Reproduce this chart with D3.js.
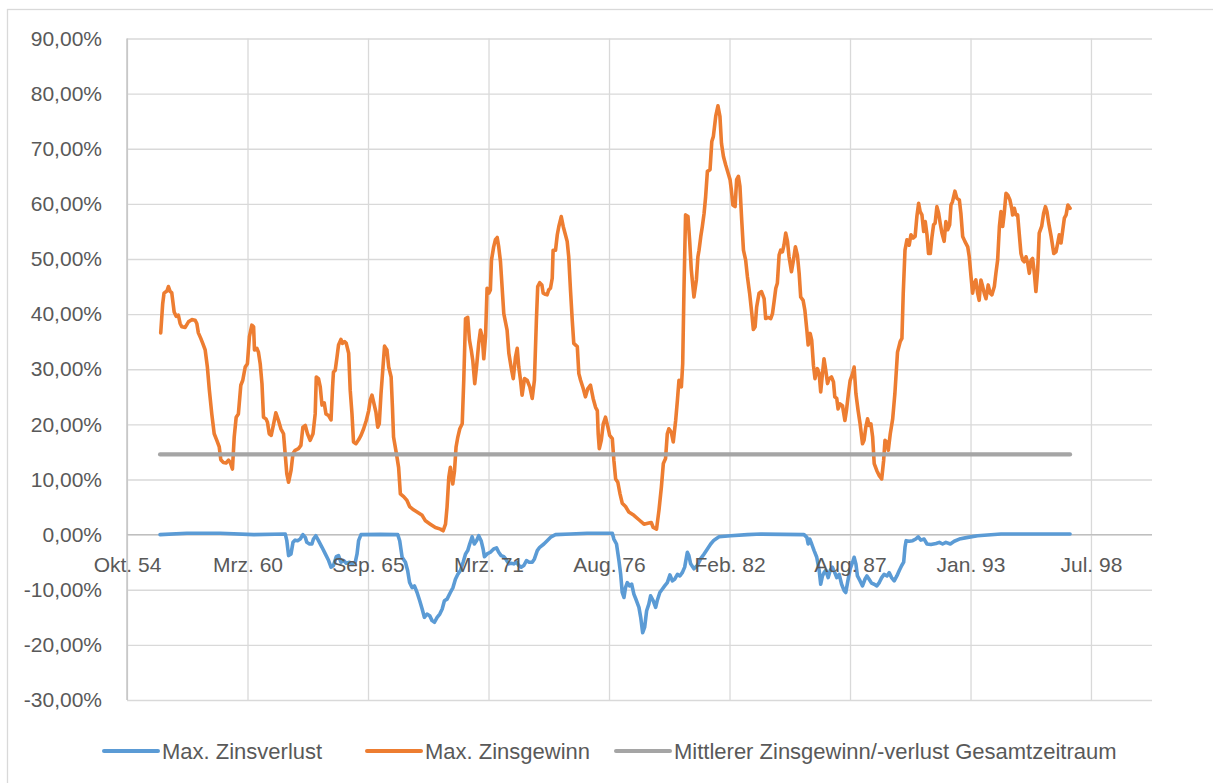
<!DOCTYPE html>
<html>
<head>
<meta charset="utf-8">
<script src="https://cdn.jsdelivr.net/npm/d3@7"></script>
<style>
  body { margin: 0; background: #fff; }
  svg text { font-family: "Liberation Sans", Arial, sans-serif; fill: #595959; }
</style>
</head>
<body>
<svg id="chart" width="1213" height="783"></svg>
<script>
/* Zinsgewinn / Zinsverlust chart (Excel look) */

// ---- data (x = decimal year, y = percent) ----
const tickDates  = ["1954-10-01","1960-03-23","1965-09-13","1971-03-06","1976-08-26",
                    "1982-02-16","1987-08-09","1993-01-29","1998-07-21"];
const tickLabels = ["Okt. 54","Mrz. 60","Sep. 65","Mrz. 71","Aug. 76",
                    "Feb. 82","Aug. 87","Jan. 93","Jul. 98"];
const yTicks = [-30,-20,-10,0,10,20,30,40,50,60,70,80,90];

const seriesNames  = ["Max. Zinsverlust","Max. Zinsgewinn","Mittlerer Zinsgewinn/-verlust Gesamtzeitraum"];
const seriesColors = ["#5B9BD5","#ED7D31","#A5A5A5"];

const zinsverlust = [[1956.25,0.0],[1957.47,0.25],[1958.98,0.24],[1960.50,0.0],[1961.94,0.1],[1962.01,-1.1],[1962.09,-3.8],[1962.20,-3.5],[1962.29,-1.4],[1962.39,-1.0],[1962.50,-1.1],[1962.62,-0.8],[1962.74,0.0],[1962.85,-0.5],[1962.92,-1.4],[1963.04,-1.7],[1963.15,-1.7],[1963.22,-0.8],[1963.33,-0.2],[1963.45,-1.1],[1963.61,-2.3],[1963.76,-3.5],[1963.91,-4.7],[1964.02,-5.9],[1964.13,-5.6],[1964.26,-4.0],[1964.36,-3.8],[1964.47,-5.0],[1964.59,-4.7],[1964.71,-5.2],[1964.86,-5.0],[1964.97,-5.3],[1965.12,-5.0],[1965.20,-3.5],[1965.27,-1.1],[1965.38,0.0],[1966.26,0.05],[1967.05,0.0],[1967.14,-1.1],[1967.25,-4.1],[1967.40,-5.0],[1967.50,-6.5],[1967.59,-8.7],[1967.70,-9.6],[1967.81,-9.3],[1967.93,-10.5],[1968.05,-12.0],[1968.16,-13.5],[1968.26,-15.0],[1968.38,-14.4],[1968.50,-14.7],[1968.61,-15.6],[1968.72,-15.9],[1968.84,-15.0],[1968.96,-14.4],[1969.07,-13.5],[1969.17,-12.0],[1969.29,-11.7],[1969.44,-10.5],[1969.56,-9.6],[1969.67,-8.1],[1969.78,-7.2],[1969.90,-6.5],[1970.02,-5.0],[1970.13,-3.5],[1970.23,-2.9],[1970.32,-1.7],[1970.43,-0.4],[1970.53,-1.7],[1970.63,-1.1],[1970.73,-0.2],[1970.84,-1.1],[1970.93,-2.6],[1970.99,-4.0],[1971.11,-3.5],[1971.26,-3.2],[1971.41,-2.6],[1971.54,-2.4],[1971.64,-3.2],[1971.75,-3.8],[1971.87,-4.0],[1971.99,-4.6],[1972.10,-5.3],[1972.20,-5.2],[1972.32,-5.3],[1972.45,-5.0],[1972.55,-5.6],[1972.66,-5.9],[1972.78,-5.6],[1972.90,-4.7],[1973.02,-5.0],[1973.16,-5.0],[1973.26,-4.4],[1973.39,-2.9],[1973.50,-2.3],[1973.69,-1.7],[1973.84,-1.1],[1974.02,-0.4],[1974.22,0.0],[1974.90,0.1],[1975.66,0.25],[1976.80,0.25],[1976.87,-0.8],[1976.99,-1.7],[1977.10,-4.7],[1977.18,-7.2],[1977.25,-10.5],[1977.33,-11.4],[1977.40,-9.6],[1977.48,-8.7],[1977.59,-9.3],[1977.68,-9.0],[1977.78,-10.8],[1977.90,-12.0],[1978.01,-13.2],[1978.09,-15.0],[1978.18,-17.8],[1978.27,-16.8],[1978.36,-13.8],[1978.46,-12.6],[1978.54,-11.1],[1978.66,-12.0],[1978.77,-13.2],[1978.84,-12.0],[1978.96,-10.5],[1979.07,-9.9],[1979.18,-9.3],[1979.30,-8.7],[1979.42,-7.3],[1979.53,-8.4],[1979.63,-8.1],[1979.76,-7.2],[1979.87,-7.5],[1979.98,-6.9],[1980.09,-5.9],[1980.21,-3.2],[1980.28,-3.8],[1980.36,-5.3],[1980.51,-6.2],[1980.66,-5.6],[1980.81,-4.4],[1980.97,-3.5],[1981.12,-2.6],[1981.27,-1.7],[1981.42,-1.0],[1981.65,-0.4],[1982.18,-0.2],[1982.94,0.0],[1983.55,0.1],[1985.51,0.0],[1985.64,-0.5],[1985.70,-1.7],[1985.77,-0.8],[1985.86,-1.7],[1985.97,-2.9],[1986.09,-4.1],[1986.20,-6.5],[1986.27,-9.0],[1986.35,-7.5],[1986.42,-6.9],[1986.50,-6.5],[1986.61,-7.8],[1986.70,-6.5],[1986.80,-5.9],[1986.91,-6.9],[1987.00,-7.8],[1987.11,-7.2],[1987.22,-9.0],[1987.34,-10.2],[1987.41,-10.5],[1987.49,-8.7],[1987.61,-6.2],[1987.72,-5.0],[1987.79,-4.1],[1987.87,-5.3],[1987.94,-7.5],[1988.06,-8.4],[1988.17,-9.3],[1988.28,-8.1],[1988.37,-7.5],[1988.47,-8.1],[1988.58,-8.8],[1988.70,-9.0],[1988.82,-9.3],[1988.93,-8.7],[1989.04,-7.8],[1989.15,-7.2],[1989.28,-7.5],[1989.38,-6.9],[1989.49,-7.8],[1989.61,-8.4],[1989.73,-7.5],[1989.84,-6.5],[1989.95,-5.6],[1990.04,-5.0],[1990.10,-2.3],[1990.15,-1.1],[1990.29,-1.2],[1990.45,-1.1],[1990.59,-0.8],[1990.70,-0.4],[1990.82,-1.0],[1990.97,-0.8],[1991.10,-1.7],[1991.28,-1.8],[1991.51,-1.6],[1991.66,-1.4],[1991.81,-1.7],[1991.96,-1.4],[1992.16,-1.7],[1992.34,-1.2],[1992.57,-0.8],[1992.95,-0.5],[1993.40,-0.2],[1994.46,0.1],[1995.98,0.1],[1997.60,0.1]];

const zinsgewinn = [[1956.28,36.6],[1956.37,41.9],[1956.43,43.8],[1956.56,44.2],[1956.63,45.0],[1956.71,44.1],[1956.78,43.9],[1956.89,40.4],[1956.98,39.6],[1957.08,39.8],[1957.16,38.3],[1957.24,37.7],[1957.39,37.6],[1957.54,38.6],[1957.69,39.0],[1957.84,38.9],[1957.92,38.3],[1957.99,36.6],[1958.10,35.6],[1958.19,34.7],[1958.30,33.5],[1958.40,30.4],[1958.49,26.2],[1958.60,21.9],[1958.71,18.3],[1958.83,17.1],[1958.94,15.9],[1959.01,13.6],[1959.13,13.1],[1959.25,13.0],[1959.36,13.5],[1959.44,13.1],[1959.54,11.9],[1959.62,17.7],[1959.71,21.3],[1959.81,21.9],[1959.92,27.1],[1960.01,28.0],[1960.12,30.4],[1960.22,31.0],[1960.31,35.9],[1960.42,38.0],[1960.50,37.7],[1960.54,33.5],[1960.65,33.8],[1960.72,33.1],[1960.80,31.0],[1960.88,27.4],[1960.95,21.3],[1961.06,21.0],[1961.13,20.4],[1961.21,18.3],[1961.30,18.0],[1961.41,20.1],[1961.51,22.1],[1961.63,20.7],[1961.74,19.2],[1961.86,18.3],[1961.94,14.4],[1962.01,11.0],[1962.09,9.5],[1962.20,11.6],[1962.29,14.7],[1962.39,15.3],[1962.54,15.6],[1962.65,16.2],[1962.74,19.5],[1962.85,19.8],[1962.95,18.3],[1963.07,17.1],[1963.20,18.3],[1963.30,21.9],[1963.35,28.6],[1963.45,28.3],[1963.53,26.8],[1963.61,23.5],[1963.71,23.9],[1963.79,21.9],[1963.91,21.6],[1964.02,20.8],[1964.09,26.8],[1964.13,29.5],[1964.21,29.8],[1964.29,32.2],[1964.36,34.4],[1964.47,35.4],[1964.54,34.7],[1964.64,35.0],[1964.71,34.7],[1964.82,32.9],[1964.89,26.2],[1964.97,21.9],[1965.04,16.8],[1965.15,16.5],[1965.27,17.2],[1965.38,18.0],[1965.50,19.2],[1965.62,20.7],[1965.73,22.5],[1965.80,24.4],[1965.88,25.3],[1965.95,24.1],[1966.06,22.2],[1966.14,19.5],[1966.21,20.1],[1966.29,25.6],[1966.38,30.4],[1966.45,34.2],[1966.56,33.5],[1966.64,30.4],[1966.75,28.6],[1966.81,23.1],[1966.86,17.7],[1966.99,14.7],[1967.09,12.2],[1967.17,7.4],[1967.32,6.9],[1967.47,6.2],[1967.59,5.1],[1967.77,4.5],[1967.93,4.1],[1968.16,3.5],[1968.31,2.5],[1968.53,1.9],[1968.76,1.3],[1968.99,1.0],[1969.11,0.7],[1969.22,1.9],[1969.29,5.0],[1969.37,10.4],[1969.44,12.2],[1969.55,9.2],[1969.63,11.6],[1969.70,15.9],[1969.78,17.7],[1969.87,19.2],[1969.98,20.1],[1970.05,28.0],[1970.13,39.2],[1970.23,39.4],[1970.31,35.3],[1970.39,33.5],[1970.46,31.6],[1970.55,27.4],[1970.63,30.4],[1970.73,34.7],[1970.81,37.1],[1970.89,35.9],[1970.96,31.9],[1971.04,35.9],[1971.11,44.7],[1971.19,43.8],[1971.26,44.4],[1971.31,49.8],[1971.41,52.2],[1971.49,53.5],[1971.57,53.9],[1971.64,52.2],[1971.72,49.5],[1971.87,40.1],[1972.02,37.1],[1972.10,32.9],[1972.20,30.4],[1972.30,28.3],[1972.40,32.2],[1972.48,33.8],[1972.55,30.4],[1972.63,28.0],[1972.70,25.3],[1972.81,28.3],[1972.93,28.0],[1973.05,26.8],[1973.16,24.7],[1973.26,28.0],[1973.35,38.9],[1973.41,45.0],[1973.50,45.7],[1973.60,45.3],[1973.66,43.8],[1973.76,43.6],[1973.84,43.5],[1973.91,44.4],[1973.99,44.7],[1974.07,46.5],[1974.11,51.6],[1974.22,51.6],[1974.30,54.4],[1974.37,55.9],[1974.48,57.7],[1974.57,55.9],[1974.67,54.4],[1974.75,53.2],[1974.82,50.4],[1974.90,44.4],[1974.98,38.9],[1975.05,34.7],[1975.21,34.1],[1975.28,29.2],[1975.36,28.0],[1975.48,26.5],[1975.58,25.0],[1975.69,26.5],[1975.81,27.1],[1975.93,24.7],[1976.04,23.1],[1976.12,22.5],[1976.16,18.3],[1976.21,15.6],[1976.30,17.1],[1976.39,20.1],[1976.49,21.3],[1976.60,19.5],[1976.68,18.0],[1976.80,17.4],[1976.87,13.5],[1976.95,10.1],[1977.05,9.5],[1977.15,7.4],[1977.25,5.7],[1977.40,5.1],[1977.55,4.1],[1977.78,3.5],[1978.01,2.7],[1978.24,1.9],[1978.46,2.1],[1978.57,2.2],[1978.66,1.3],[1978.81,1.0],[1978.92,4.4],[1979.03,8.6],[1979.12,12.9],[1979.22,13.8],[1979.30,18.3],[1979.37,19.2],[1979.48,18.6],[1979.57,16.8],[1979.68,20.7],[1979.76,24.4],[1979.83,28.0],[1979.94,26.8],[1980.00,31.0],[1980.06,45.0],[1980.13,58.0],[1980.24,57.7],[1980.32,53.0],[1980.39,48.0],[1980.51,43.1],[1980.62,46.2],[1980.69,50.4],[1980.74,51.6],[1980.82,54.1],[1980.89,55.9],[1980.97,58.3],[1981.04,61.3],[1981.12,65.9],[1981.24,66.2],[1981.32,71.3],[1981.39,72.2],[1981.50,75.9],[1981.60,77.8],[1981.69,75.9],[1981.76,71.0],[1981.85,68.6],[1981.95,67.1],[1982.06,65.6],[1982.15,64.4],[1982.21,62.5],[1982.28,59.8],[1982.38,59.5],[1982.45,64.4],[1982.53,65.0],[1982.60,63.2],[1982.68,57.1],[1982.76,51.6],[1982.86,49.8],[1982.94,46.8],[1983.04,43.8],[1983.14,40.1],[1983.21,37.2],[1983.29,37.7],[1983.36,41.3],[1983.47,43.8],[1983.58,44.1],[1983.70,42.8],[1983.77,39.2],[1983.88,39.4],[1984.00,39.2],[1984.08,40.1],[1984.15,42.2],[1984.23,44.7],[1984.30,45.6],[1984.38,50.7],[1984.45,51.6],[1984.53,51.3],[1984.60,52.5],[1984.68,54.7],[1984.76,53.2],[1984.83,50.4],[1984.94,47.7],[1985.03,49.8],[1985.12,52.2],[1985.21,50.7],[1985.29,47.4],[1985.36,43.1],[1985.47,42.5],[1985.55,40.7],[1985.64,37.1],[1985.70,34.4],[1985.79,36.5],[1985.86,35.3],[1985.94,30.7],[1986.01,28.3],[1986.12,30.1],[1986.20,29.2],[1986.27,25.9],[1986.35,29.2],[1986.42,31.9],[1986.50,29.8],[1986.58,27.4],[1986.65,28.3],[1986.76,28.6],[1986.85,27.7],[1986.91,25.0],[1987.00,24.7],[1987.06,22.8],[1987.15,23.7],[1987.26,23.4],[1987.37,20.7],[1987.44,22.5],[1987.53,25.6],[1987.61,28.0],[1987.72,29.2],[1987.79,30.4],[1987.87,25.6],[1987.97,22.5],[1988.06,20.1],[1988.17,16.5],[1988.24,17.1],[1988.32,19.5],[1988.40,21.0],[1988.47,19.8],[1988.55,20.1],[1988.63,17.7],[1988.70,12.9],[1988.82,11.6],[1988.93,10.7],[1989.04,10.1],[1989.13,13.5],[1989.19,17.1],[1989.28,16.8],[1989.34,15.3],[1989.43,18.3],[1989.54,21.0],[1989.64,25.6],[1989.76,33.1],[1989.88,35.0],[1989.96,35.6],[1990.02,43.8],[1990.10,51.6],[1990.19,53.5],[1990.29,52.5],[1990.37,54.4],[1990.47,53.8],[1990.56,54.1],[1990.64,57.7],[1990.72,60.1],[1990.79,58.6],[1990.87,58.0],[1990.95,55.0],[1991.02,56.8],[1991.10,54.4],[1991.17,51.0],[1991.25,51.0],[1991.32,53.8],[1991.40,56.2],[1991.47,56.5],[1991.55,59.5],[1991.63,58.3],[1991.70,56.5],[1991.78,54.7],[1991.88,53.2],[1991.96,56.8],[1992.04,55.3],[1992.13,56.2],[1992.19,59.8],[1992.26,60.4],[1992.37,62.3],[1992.46,61.0],[1992.57,60.7],[1992.64,58.3],[1992.72,54.1],[1992.82,53.2],[1992.95,52.2],[1993.02,50.4],[1993.10,46.8],[1993.17,43.8],[1993.25,45.6],[1993.32,46.2],[1993.40,43.8],[1993.47,42.5],[1993.55,46.2],[1993.63,45.0],[1993.70,43.8],[1993.78,42.8],[1993.88,45.3],[1993.97,43.8],[1994.05,43.5],[1994.16,45.0],[1994.23,47.4],[1994.31,49.8],[1994.39,55.9],[1994.46,58.6],[1994.54,55.9],[1994.61,58.3],[1994.69,61.9],[1994.77,61.6],[1994.87,60.7],[1994.95,59.2],[1994.99,58.0],[1995.07,59.2],[1995.14,58.0],[1995.22,58.0],[1995.29,54.7],[1995.37,51.0],[1995.45,49.8],[1995.52,49.5],[1995.60,50.4],[1995.68,49.2],[1995.75,47.4],[1995.83,49.8],[1995.90,50.1],[1995.98,47.4],[1996.05,44.1],[1996.13,48.0],[1996.20,54.7],[1996.31,55.9],[1996.40,58.3],[1996.48,59.5],[1996.55,58.6],[1996.63,56.5],[1996.74,54.1],[1996.86,51.0],[1996.96,51.3],[1997.04,52.9],[1997.11,54.4],[1997.19,52.9],[1997.27,55.3],[1997.34,57.4],[1997.42,58.0],[1997.50,59.8],[1997.60,59.2]];

// mean over the whole period, drawn across the data range
const mittelwert = [[1956.25,14.55],[1997.60,14.55]];

// ---- layout ----
const width = 1213, height = 783;
const plot = { left: 127, right: 1152, top: 38.5, bottom: 700 };

const svg = d3.select("#chart");

// chart area border (Excel frame, runs off the picture to the right/bottom)
svg.append("rect")
  .attr("x", 7.5).attr("y", 9.5)
  .attr("width", 1230).attr("height", 800)
  .attr("fill", "none").attr("stroke", "#D9D9D9").attr("stroke-width", 1.3);

// decimal year -> Date
function toDate(yr) {
  const y0 = Math.floor(yr);
  const a = new Date(y0, 0, 1), b = new Date(y0 + 1, 0, 1);
  return new Date(+a + (yr - y0) * (b - a));
}

const x = d3.scaleTime()
  .domain([new Date(1954, 9, 1), new Date(2001, 3, 29)])
  .range([plot.left, plot.right]);
const y = d3.scaleLinear()
  .domain([-30, 90])
  .range([plot.bottom, plot.top]);

// German number format, plain hyphen as minus sign
const fmtPct = d => (d < 0 ? "-" : "") + d3.format(".2f")(Math.abs(d)).replace(".", ",") + "%";

/********* grid + axes *********/
const yAxisG = svg.append("g")
  .attr("transform", `translate(${plot.left},0)`)
  .call(d3.axisLeft(y).tickValues(yTicks)
    .tickSize(-(plot.right - plot.left)).tickPadding(25).tickFormat(fmtPct));
yAxisG.select(".domain").remove();
yAxisG.selectAll(".tick line").attr("stroke", "#D9D9D9").attr("stroke-width", 1.3);
yAxisG.selectAll(".tick text")
  .attr("font-size", 21).attr("font-family", null).attr("fill", "#595959");

const xGridG = svg.append("g")
  .attr("transform", `translate(0,${plot.bottom})`)
  .call(d3.axisBottom(x).tickValues(tickDates.map(d => new Date(d)))
    .tickSize(-(plot.bottom - plot.top)).tickFormat(""));
xGridG.select(".domain").remove();
xGridG.selectAll(".tick line").attr("stroke", "#D9D9D9").attr("stroke-width", 1.3);

// value axis line (left) and category axis line at 0
svg.append("line")
  .attr("x1", plot.left).attr("x2", plot.left)
  .attr("y1", plot.top).attr("y2", plot.bottom)
  .attr("stroke", "#BFBFBF").attr("stroke-width", 1.3);
svg.append("line")
  .attr("x1", plot.left).attr("x2", plot.right)
  .attr("y1", y(0)).attr("y2", y(0))
  .attr("stroke", "#BFBFBF").attr("stroke-width", 1.3);

/********* series *********/
const line = d3.line()
  .x(d => x(toDate(d[0])))
  .y(d => y(d[1]));

[zinsverlust, zinsgewinn, mittelwert].forEach((s, i) => {
  svg.append("path")
    .datum(s)
    .attr("d", line)
    .attr("fill", "none")
    .attr("stroke", seriesColors[i])
    .attr("stroke-width", i === 2 ? 4.2 : 3.6)
    .attr("stroke-linejoin", "round")
    .attr("stroke-linecap", "round");
});

// category labels sit just below the 0 line
const xLabG = svg.append("g")
  .attr("transform", `translate(0,${y(0)})`)
  .call(d3.axisBottom(x).tickValues(tickDates.map(d => new Date(d)))
    .tickSize(0).tickPadding(22).tickFormat((d, i) => tickLabels[i]));
xLabG.select(".domain").remove();
xLabG.selectAll(".tick text")
  .attr("font-size", 21).attr("font-family", null).attr("fill", "#595959");

/********* legend *********/
const legY = 751, sampleW = 56, gap = 5;
const legendStarts = [102, 365, 614];   // left edge of each legend entry
const legG = svg.append("g");
seriesNames.forEach((name, i) => {
  const g = legG.append("g").attr("transform", `translate(${legendStarts[i]},0)`);
  g.append("line")
    .attr("x1", 2).attr("x2", sampleW)
    .attr("y1", legY).attr("y2", legY)
    .attr("stroke", seriesColors[i]).attr("stroke-width", 4)
    .attr("stroke-linecap", "round");
  g.append("text")
    .attr("x", sampleW + 4).attr("y", legY + 7.5)
    .attr("font-size", 22)
    .text(name);
});
</script>
</body>
</html>
